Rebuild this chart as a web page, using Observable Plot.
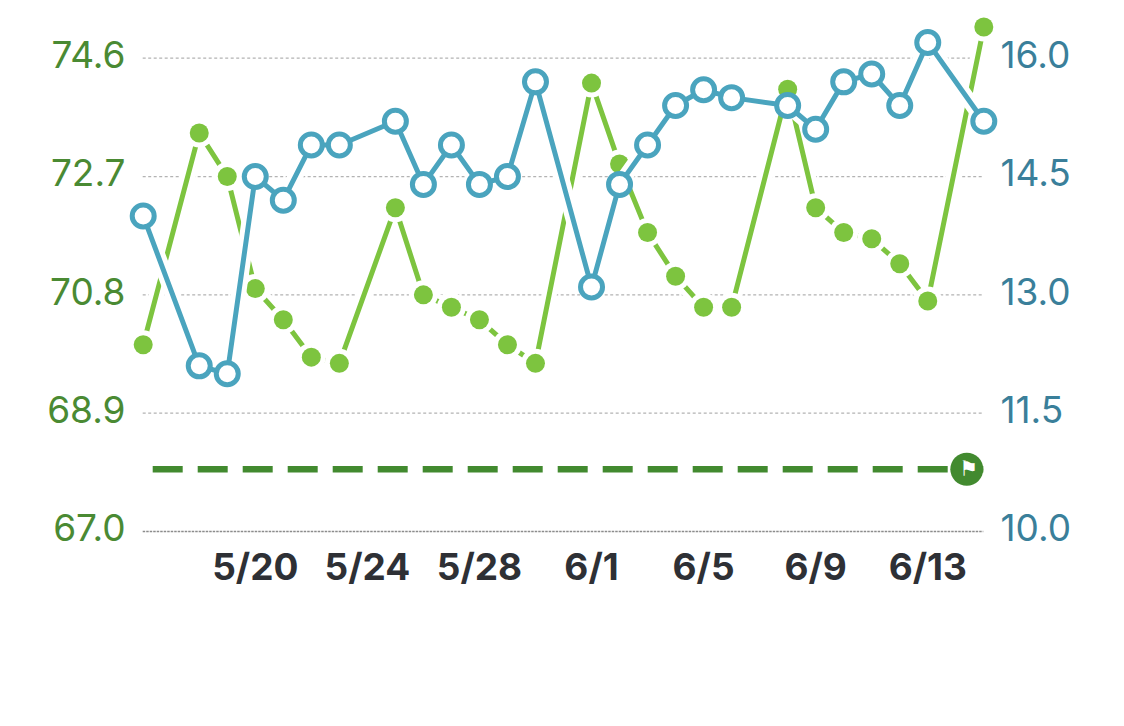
<!DOCTYPE html>
<html>
<head>
<meta charset="utf-8">
<script src="https://cdn.jsdelivr.net/npm/d3@7"></script>
<script src="https://cdn.jsdelivr.net/npm/@observablehq/plot@0.6"></script>
<style>
  html, body { margin: 0; padding: 0; background: #ffffff; }
  #chart svg { display: block; }
</style>
</head>
<body>
<div id="chart"></div>
<script>
// ---- Data ----
const dates = ["05-16","05-18","05-19","05-20","05-21","05-22","05-23","05-25","05-26","05-27","05-28","05-29","05-30",
               "06-01","06-02","06-03","06-04","06-05","06-06","06-08","06-09","06-10","06-11","06-12","06-13","06-15"];
const weightValues = [70.0, 73.4, 72.7, 70.9, 70.4, 69.8, 69.7, 72.2, 70.8, 70.6, 70.4, 70.0, 69.7,
                      74.2, 72.9, 71.8, 71.1, 70.6, 70.6, 74.1, 72.2, 71.8, 71.7, 71.3, 70.7, 75.1];
const bodyFatValues = [14.0, 12.1, 12.0, 14.5, 14.2, 14.9, 14.9, 15.2, 14.4, 14.9, 14.4, 14.5, 15.7,
                       13.1, 14.4, 14.9, 15.4, 15.6, 15.5, 15.4, 15.1, 15.7, 15.8, 15.4, 16.2, 15.2];
const leftTicks = [67.0, 68.9, 70.8, 72.7, 74.6];
const rightTicks = [10.0, 11.5, 13.0, 14.5, 16.0];
const xTickLabels = ["5/20", "5/24", "5/28", "6/1", "6/5", "6/9", "6/13"];
const goalWeight = [68.0];
const year = 2024;

// ---- Helpers ----
const parseDay = s => { const [m, d] = s.split("-").map(Number); return new Date(Date.UTC(year, m - 1, d)); };
const parseLabel = s => { const [m, d] = s.split("/").map(Number); return new Date(Date.UTC(year, m - 1, d)); };
const leftMin = leftTicks[0], leftMax = leftTicks[leftTicks.length - 1];
const rightMin = rightTicks[0], rightMax = rightTicks[rightTicks.length - 1];
const toLeft = b => leftMin + (b - rightMin) * (leftMax - leftMin) / (rightMax - rightMin);

const weight = dates.map((d, i) => ({date: parseDay(d), value: weightValues[i]}));
const bodyFat = dates.map((d, i) => ({date: parseDay(d), value: toLeft(bodyFatValues[i])}));
const firstDate = weight[0].date, lastDate = weight[weight.length - 1].date;

const GREEN = "#7dc43f", BLUE = "#4aa4be", DARKGREEN = "#428a2f";
const LEFTTEXT = "#4a8a33", RIGHTTEXT = "#3a7f9a";

const chart = Plot.plot({
  width: 1124,
  height: 726,
  marginLeft: 142.7,
  marginRight: 140.7,
  marginTop: 57.7,
  marginBottom: 195,
  style: {fontFamily: "Inter, 'Noto Sans', sans-serif", background: "#ffffff"},
  x: {type: "utc", domain: [firstDate, lastDate], axis: null},
  y: {domain: [leftMin, leftMax], axis: null},
  marks: [
    // gridlines
    Plot.ruleY(leftTicks.slice(1), {stroke: "#b3b3b3", strokeWidth: 1.2, strokeDasharray: "3,2.5"}),
    Plot.ruleY([leftMin], {stroke: "#8c8c8c", strokeWidth: 1.6, strokeDasharray: "2.5,1"}),
    // left axis labels
    Plot.text(leftTicks, {y: d => d, text: d => d.toFixed(1), frameAnchor: "left", textAnchor: "end",
      lineAnchor: "middle", dx: -17.7, dy: -2, fill: LEFTTEXT, fontSize: 37}),
    // right axis labels
    Plot.text(rightTicks, {y: d => toLeft(d), text: d => d.toFixed(1), frameAnchor: "right", textAnchor: "start",
      lineAnchor: "middle", dx: 16.7, dy: -2, fill: RIGHTTEXT, fontSize: 37}),
    // x labels
    Plot.text(xTickLabels, {x: d => parseLabel(d), text: d => d, frameAnchor: "bottom", lineAnchor: "middle",
      dy: 37, fill: "#2e3035", fontSize: 37, fontWeight: 700}),
    // goal line
    Plot.ruleY(goalWeight, {x1: firstDate, x2: lastDate, stroke: DARKGREEN, strokeWidth: 6.5,
      strokeDasharray: "30,15", strokeDashoffset: 35}),
    // weight line with halo
    Plot.line(weight, {x: "date", y: "value", stroke: "#ffffff", strokeWidth: 15}),
    Plot.line(weight, {x: "date", y: "value", stroke: GREEN, strokeWidth: 5}),
    Plot.dot(weight, {x: "date", y: "value", r: 14.5, fill: "#ffffff"}),
    Plot.dot(weight, {x: "date", y: "value", r: 9.5, fill: GREEN}),
    // body fat line with halo
    Plot.line(bodyFat, {x: "date", y: "value", stroke: "#ffffff", strokeWidth: 15}),
    Plot.line(bodyFat, {x: "date", y: "value", stroke: BLUE, strokeWidth: 5}),
    Plot.dot(bodyFat, {x: "date", y: "value", r: 11, fill: "#ffffff", stroke: BLUE, strokeWidth: 5}),
    // goal flag
    Plot.dot(goalWeight, {x: lastDate, y: d => d, r: 16.5, fill: DARKGREEN, dx: -17}),
    Plot.text(goalWeight, {x: lastDate, y: d => d, text: () => "\u2691", dx: -15, dy: 0, fill: "#ffffff",
      fontSize: 21, fontFamily: "DejaVu Sans"})
  ]
});
document.getElementById("chart").appendChild(chart);
</script>
</body>
</html>
